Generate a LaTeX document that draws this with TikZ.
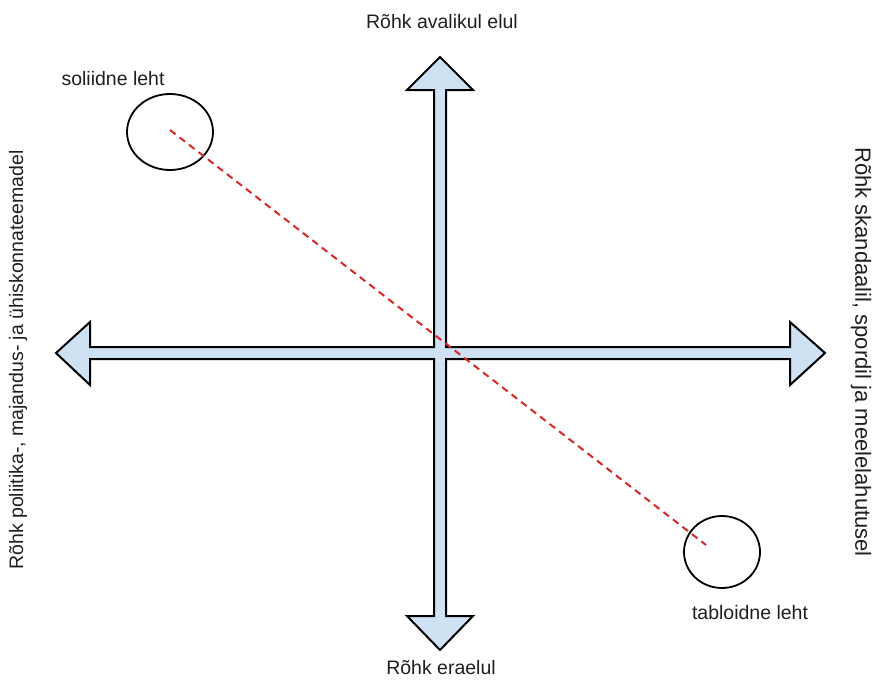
\documentclass[tikz,border=0pt]{standalone}
\usepackage{fontspec}
\setmainfont{Liberation Sans}
\usetikzlibrary{shapes.geometric}
\definecolor{axisfill}{RGB}{207,226,243}
\definecolor{dashred}{RGB}{214,40,40}
\tikzset{
  axisshape/.style={draw=black, fill=axisfill, line width=2pt, line join=miter},
  paper/.style={draw=black, line width=1.8pt, ellipse, inner sep=0pt},
  lbl/.style={font=\fontsize{19.5}{22}\selectfont, inner sep=0pt, text=black!88},
  biglbl/.style={lbl, font=\fontsize{22}{25}\selectfont}
}
\tikzset{
  trend/.style={draw=dashred, line width=2pt, dash pattern=on 7pt off 5pt}
}
\begin{document}
\begin{tikzpicture}[x=1pt,y=-1pt]
\useasboundingbox (0,0) rectangle (878,680);
% cross of double-headed arrows
\draw[axisshape] (440,57) -- (473,90) -- (446,90) -- (446,347) -- (790,347) -- (790,322)
  -- (825,353) -- (790,385) -- (790,359) -- (446,359) -- (446,616) -- (473,616)
  -- (440,650) -- (407,616) -- (434,616) -- (434,359) -- (90,359) -- (90,385)
  -- (56,353) -- (90,322) -- (90,347) -- (434,347) -- (434,90) -- (407,90) -- cycle;
% papers
\node[paper, minimum width=86pt, minimum height=76pt] (sol) at (170,132) {};
\node[paper, minimum width=76pt, minimum height=72pt] (tab) at (722,552) {};
\coordinate (solc) at (170,130);
\coordinate (tabc) at (706,545);
\draw[trend] (solc) -- (tabc);
% labels
\node[lbl] (top) at (442,22) {Rõhk avalikul elul};
\node[lbl] (bottom) at (441,668) {Rõhk eraelul};
\node[lbl] (soll) at (113,79) {soliidne leht};
\node[lbl] (tabl) at (750,613) {tabloidne leht};
\node[lbl, rotate=90] (left) at (18,360) {Rõhk poliitika-, majandus- ja ühiskonnateemadel};
\node[biglbl, rotate=-90] (right) at (861,352) {Rõhk skandaalil, spordil ja meelelahutusel};
\end{tikzpicture}
\end{document}
